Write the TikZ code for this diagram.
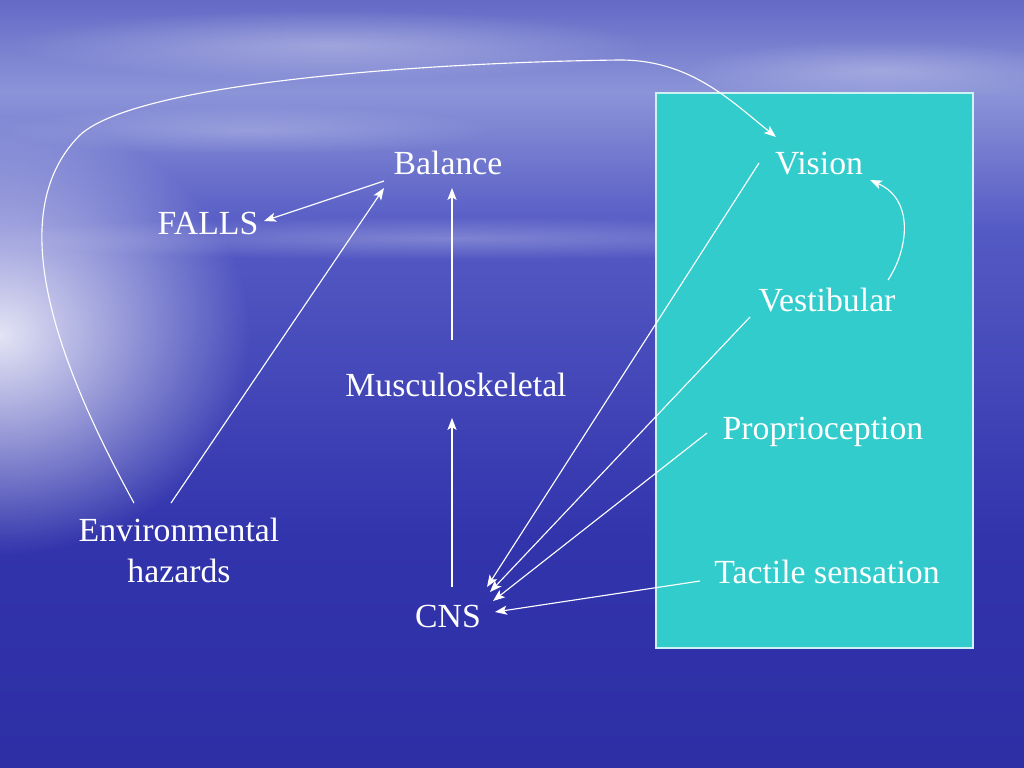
\documentclass[tikz,border=0pt]{standalone}
\usepackage{fontspec}
\setmainfont{Liberation Serif}
\usetikzlibrary{arrows.meta,fadings}
\definecolor{teal1}{RGB}{51,204,204}
\definecolor{bgA}{RGB}{38,38,152}
\definecolor{bgB}{RGB}{50,52,172}
\definecolor{bgC}{RGB}{84,90,196}
\definecolor{bgD}{RGB}{140,148,216}
\definecolor{bgE}{RGB}{100,106,198}
\definecolor{bgF}{RGB}{86,92,192}
\definecolor{bgG}{RGB}{80,86,188}
\pgfdeclareverticalshading{seasky}{100bp}{color(0bp)=(bgA); color(40bp)=(bgB); color(60bp)=(bgC); color(69bp)=(bgD); color(75bp)=(bgE); color(90bp)=(bgF); color(100bp)=(bgG)}
\tikzfading[name=glowfade, inner color=transparent!15, outer color=transparent!100]
\tikzset{
  lbl/.style={text=white, font=\fontsize{24pt}{29pt}\selectfont, inner sep=0pt},
  conn/.style={draw=white, line width=0.8pt, -{Stealth[length=8.5pt,width=6.5pt,inset=2pt]}},
}
\begin{document}
\begin{tikzpicture}[x=0.025cm,y=-0.025cm]
\useasboundingbox (0,0) rectangle (1024,768);
% background
\shade[shading=seasky] (0,0) rectangle (1024,768);
\fill[white, path fading=glowfade] (0,335) ellipse (250 and 220);
\fill[white, path fading=glowfade, opacity=0.35] (330,45) ellipse (320 and 35);
\fill[white, path fading=glowfade, opacity=0.3] (880,70) ellipse (200 and 30);
\fill[white, path fading=glowfade, opacity=0.25] (250,130) ellipse (250 and 25);
\fill[white, path fading=glowfade, opacity=0.3] (450,238) ellipse (480 and 22);
% teal panel
\draw[fill=teal1, draw=white!75!teal1, line width=0.8pt] (656,93) rectangle (973,648);
% nodes
\node[lbl, anchor=base] (bal) at (448,174) {Balance};
\node[lbl, anchor=base] (falls) at (208,234) {FALLS};
\node[lbl, anchor=base] (musc) at (456,396) {Musculoskeletal};
\node[lbl, anchor=north, align=center] (env) at (179,518) {Environmental\\hazards};
\node[lbl, anchor=base] (cns) at (448,627) {CNS};
\node[lbl, anchor=base] (vis) at (819,174) {Vision};
\node[lbl, anchor=base] (vest) at (827,311) {Vestibular};
\node[lbl, anchor=base] (prop) at (823,439) {Proprioception};
\node[lbl, anchor=base] (tact) at (827,583) {Tactile sensation};
% connectors
\draw[conn] ([shift={(-64,7)}]bal.base) -- ([shift={(56,-13)}]falls.base);
\draw[conn] ([shift={(-8,-15)}]env.north) -- ([shift={(-64,14)}]bal.base);
\draw[conn] ([shift={(-4,-56)}]musc.base) -- ([shift={(4,14)}]bal.base);
\draw[conn] ([shift={(4,-40)}]cns.base) -- ([shift={(-4,22)}]musc.base);
\draw[conn] ([shift={(-60,-11)}]vis.base) -- ([shift={(39,-40)}]cns.base);
\draw[conn] ([shift={(-77,6)}]vest.base) -- ([shift={(42,-35)}]cns.base);
\draw[conn] ([shift={(-116,-6)}]prop.base) -- ([shift={(45,-26)}]cns.base);
\draw[conn] ([shift={(-127,-2)}]tact.base) -- ([shift={(47,-15)}]cns.base);
\draw[conn] ([shift={(61,-31)}]vest.base) .. controls (908,250) and (915,200) .. ([shift={(51,6)}]vis.base);
\draw[conn] ([shift={(-45,-15)}]env.north) .. controls (50,350) and (5,210) .. (80,135)
   .. controls (140,80) and (450,62) .. (620,60)
   .. controls (690,60) and (730,100) .. ([shift={(-43,-37)}]vis.base);
\end{tikzpicture}
\end{document}
